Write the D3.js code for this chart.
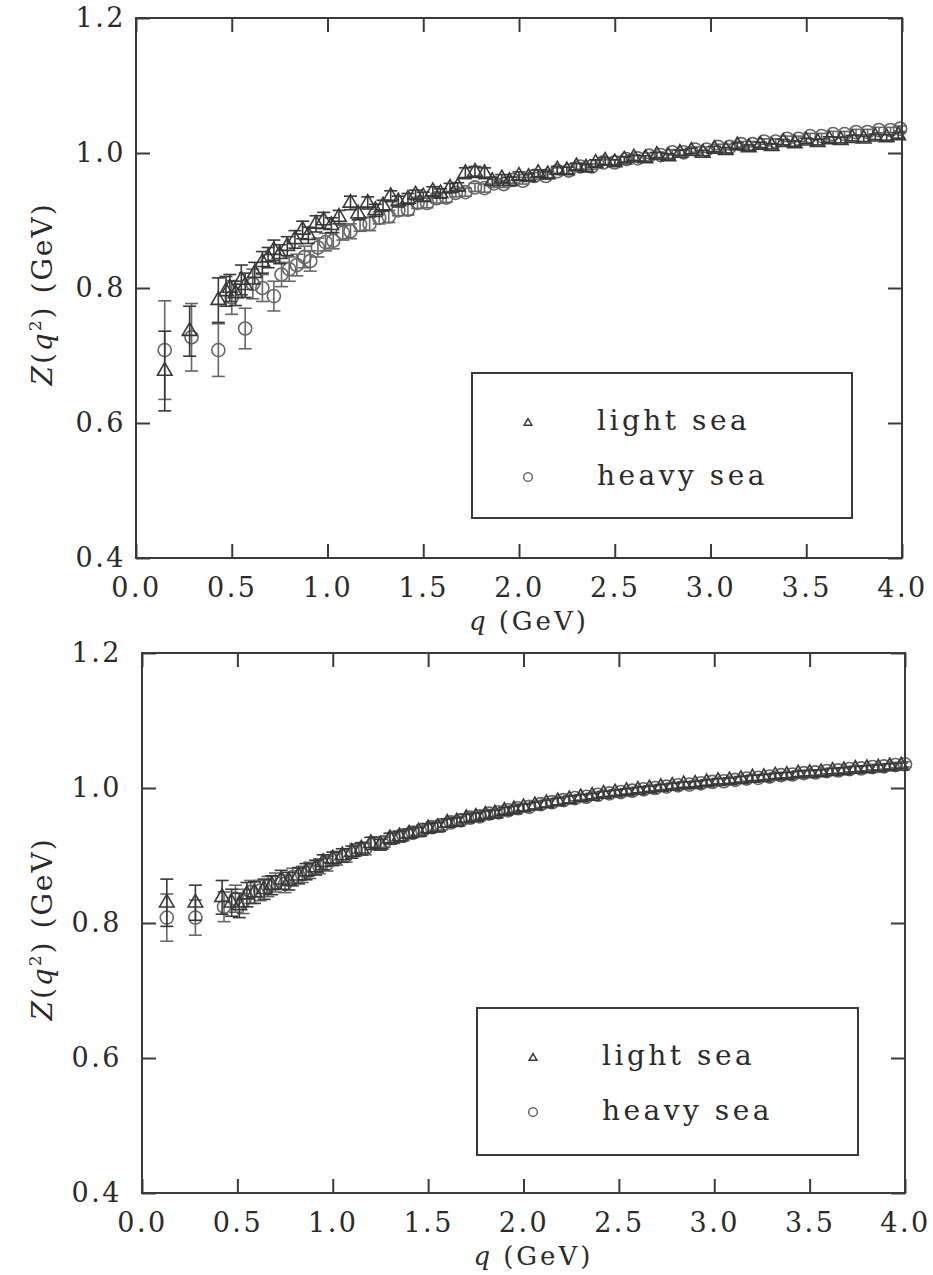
<!DOCTYPE html>
<html>
<head>
<meta charset="utf-8">
<script src="https://cdnjs.cloudflare.com/ajax/libs/d3/7.8.5/d3.min.js"></script>
<style>
  body { margin: 0; background: #fff; }
  svg text { font-family: "DejaVu Serif", serif; fill: #2b2b2b; }
</style>
</head>
<body>
<div id="box-chart"></div>
<script>
const width = 933, height = 1275;

const xTicks = [0, 0.5, 1.0, 1.5, 2.0, 2.5, 3.0, 3.5, 4.0];
const yTicks = [0.4, 0.6, 0.8, 1.0, 1.2];
const seriesNames = ['light sea', 'heavy sea'];

// each point: [q (GeV), Z(q^2) (GeV), error]
const topLight = [
  [0.15,0.677,0.059],[0.28,0.736,0.037],[0.43,0.782,0.033],[0.47,0.795,0.022],[0.49,0.800,0.020],
  [0.52,0.792,0.018],[0.55,0.812,0.022],[0.57,0.804,0.018],[0.62,0.822,0.016],[0.66,0.838,0.016],
  [0.69,0.845,0.015],[0.72,0.856,0.015],[0.75,0.850,0.014],[0.79,0.862,0.014],[0.83,0.872,0.013],
  [0.87,0.886,0.013],[0.90,0.878,0.012],[0.94,0.895,0.012],[0.98,0.900,0.012],[1.02,0.893,0.011],
  [1.06,0.905,0.010],[1.12,0.926,0.010],[1.16,0.910,0.009],[1.21,0.926,0.009],[1.25,0.915,0.009],
  [1.29,0.922,0.008],[1.33,0.936,0.008],[1.37,0.928,0.008],[1.42,0.932,0.008],[1.46,0.938,0.007],
  [1.50,0.935,0.007],[1.55,0.943,0.007],[1.59,0.940,0.007],[1.64,0.948,0.007],[1.68,0.950,0.006],
  [1.72,0.970,0.008],[1.77,0.972,0.008],[1.82,0.970,0.008],[1.86,0.958,0.006],[1.91,0.962,0.006],
  [1.95,0.958,0.006],[2.00,0.966,0.006],[2.05,0.964,0.005],[2.10,0.970,0.005],[2.15,0.968,0.005],
  [2.20,0.975,0.005],[2.25,0.974,0.005],[2.30,0.980,0.005],[2.35,0.978,0.005],[2.40,0.985,0.005],
  [2.45,0.988,0.005],[2.50,0.986,0.004],[2.55,0.990,0.004],[2.60,0.993,0.004],[2.66,0.992,0.004],
  [2.72,0.997,0.004],[2.78,0.995,0.004],[2.84,1.000,0.004],[2.90,1.003,0.004],[2.96,1.000,0.004],
  [3.02,1.006,0.004],[3.08,1.004,0.004],[3.14,1.011,0.004],[3.20,1.008,0.004],[3.26,1.012,0.004],
  [3.32,1.010,0.004],[3.38,1.016,0.004],[3.44,1.014,0.004],[3.50,1.018,0.004],[3.56,1.016,0.004],
  [3.62,1.020,0.004],[3.68,1.019,0.004],[3.74,1.022,0.004],[3.80,1.021,0.004],[3.86,1.024,0.004],
  [3.92,1.023,0.004],[3.98,1.026,0.004]
];

const topHeavy = [
  [0.15,0.708,0.073],[0.29,0.727,0.050],[0.43,0.708,0.039],[0.50,0.786,0.025],[0.57,0.740,0.030],
  [0.61,0.806,0.022],[0.66,0.800,0.020],[0.72,0.788,0.022],[0.76,0.820,0.018],[0.80,0.828,0.018],
  [0.84,0.834,0.016],[0.88,0.846,0.016],[0.91,0.840,0.015],[0.95,0.860,0.014],[0.99,0.868,0.013],
  [1.03,0.870,0.012],[1.08,0.882,0.011],[1.12,0.884,0.011],[1.17,0.894,0.010],[1.22,0.895,0.010],
  [1.27,0.904,0.009],[1.32,0.906,0.009],[1.37,0.915,0.008],[1.42,0.916,0.008],[1.47,0.926,0.008],
  [1.52,0.926,0.007],[1.57,0.933,0.007],[1.62,0.934,0.007],[1.67,0.941,0.006],[1.72,0.942,0.006],
  [1.77,0.949,0.006],[1.82,0.948,0.006],[1.87,0.955,0.006],[1.92,0.954,0.005],[1.97,0.960,0.005],
  [2.02,0.959,0.005],[2.08,0.966,0.005],[2.14,0.966,0.005],[2.20,0.973,0.005],[2.26,0.974,0.005],
  [2.32,0.980,0.004],[2.38,0.980,0.004],[2.44,0.986,0.004],[2.50,0.986,0.004],[2.56,0.991,0.004],
  [2.62,0.992,0.004],[2.68,0.996,0.004],[2.74,0.997,0.004],[2.80,1.001,0.004],[2.86,1.001,0.004],
  [2.92,1.005,0.004],[2.98,1.005,0.004],[3.04,1.009,0.004],[3.10,1.009,0.004],[3.16,1.013,0.004],
  [3.22,1.013,0.004],[3.28,1.017,0.004],[3.34,1.017,0.004],[3.40,1.021,0.004],[3.46,1.021,0.004],
  [3.52,1.025,0.004],[3.58,1.025,0.004],[3.64,1.028,0.004],[3.70,1.028,0.004],[3.76,1.031,0.004],
  [3.82,1.031,0.004],[3.88,1.034,0.004],[3.94,1.034,0.004],[3.99,1.036,0.004]
];

const bottomLight = [
  [0.13,0.830,0.035],[0.28,0.830,0.026],[0.42,0.838,0.025],[0.47,0.830,0.020],[0.51,0.826,0.018],
  [0.55,0.842,0.018],[0.59,0.845,0.016],[0.64,0.850,0.015],[0.68,0.856,0.014],[0.73,0.864,0.014],
  [0.77,0.862,0.013],[0.82,0.870,0.012],[0.86,0.876,0.012],[0.91,0.882,0.011],[0.95,0.890,0.011],
  [1.00,0.895,0.010],[1.05,0.900,0.010],[1.10,0.905,0.009],[1.15,0.910,0.009],[1.20,0.918,0.009],
  [1.25,0.916,0.008],[1.30,0.925,0.008],[1.35,0.928,0.008],[1.40,0.932,0.007],[1.45,0.935,0.007],
  [1.50,0.940,0.007],[1.55,0.942,0.007],[1.60,0.948,0.006],[1.65,0.950,0.006],[1.70,0.955,0.006],
  [1.75,0.957,0.006],[1.80,0.960,0.006],[1.85,0.962,0.005],[1.90,0.966,0.005],[1.95,0.968,0.005],
  [2.00,0.971,0.005],[2.06,0.974,0.005],[2.12,0.977,0.005],[2.18,0.980,0.005],[2.24,0.983,0.005],
  [2.30,0.986,0.004],[2.36,0.988,0.004],[2.42,0.991,0.004],[2.48,0.993,0.004],[2.54,0.995,0.004],
  [2.60,0.997,0.004],[2.66,0.999,0.004],[2.72,1.001,0.004],[2.78,1.003,0.004],[2.84,1.005,0.004],
  [2.90,1.006,0.004],[2.96,1.008,0.004],[3.02,1.010,0.004],[3.08,1.011,0.004],[3.14,1.013,0.004],
  [3.20,1.015,0.004],[3.26,1.016,0.004],[3.32,1.018,0.004],[3.38,1.019,0.004],[3.44,1.021,0.004],
  [3.50,1.022,0.004],[3.56,1.023,0.004],[3.62,1.025,0.004],[3.68,1.026,0.004],[3.74,1.028,0.004],
  [3.80,1.029,0.004],[3.86,1.030,0.004],[3.92,1.032,0.004],[3.98,1.033,0.004]
];

const bottomHeavy = [
  [0.13,0.808,0.035],[0.28,0.808,0.026],[0.43,0.824,0.022],[0.49,0.836,0.020],[0.53,0.832,0.018],
  [0.57,0.846,0.017],[0.62,0.848,0.015],[0.66,0.854,0.015],[0.70,0.860,0.014],[0.75,0.858,0.013],
  [0.79,0.868,0.013],[0.84,0.872,0.012],[0.88,0.878,0.012],[0.93,0.884,0.011],[0.97,0.888,0.011],
  [1.02,0.896,0.010],[1.07,0.900,0.010],[1.12,0.908,0.009],[1.17,0.910,0.009],[1.22,0.918,0.009],
  [1.27,0.920,0.008],[1.32,0.926,0.008],[1.37,0.930,0.008],[1.42,0.934,0.007],[1.47,0.938,0.007],
  [1.52,0.942,0.007],[1.57,0.945,0.007],[1.62,0.949,0.006],[1.67,0.952,0.006],[1.72,0.956,0.006],
  [1.77,0.958,0.006],[1.82,0.962,0.006],[1.87,0.964,0.005],[1.92,0.967,0.005],[1.97,0.970,0.005],
  [2.03,0.972,0.005],[2.09,0.976,0.005],[2.15,0.979,0.005],[2.21,0.982,0.005],[2.27,0.985,0.004],
  [2.33,0.987,0.004],[2.39,0.990,0.004],[2.45,0.992,0.004],[2.51,0.994,0.004],[2.57,0.996,0.004],
  [2.63,0.998,0.004],[2.69,1.000,0.004],[2.75,1.002,0.004],[2.81,1.004,0.004],[2.87,1.005,0.004],
  [2.93,1.007,0.004],[2.99,1.009,0.004],[3.05,1.010,0.004],[3.11,1.012,0.004],[3.17,1.014,0.004],
  [3.23,1.015,0.004],[3.29,1.017,0.004],[3.35,1.019,0.004],[3.41,1.020,0.004],[3.47,1.022,0.004],
  [3.53,1.023,0.004],[3.59,1.025,0.004],[3.65,1.026,0.004],[3.71,1.028,0.004],[3.77,1.029,0.004],
  [3.83,1.031,0.004],[3.89,1.032,0.004],[3.95,1.034,0.004],[4.00,1.035,0.004]
];

// panel frames (pixels) - the scan is a little skewed, so each panel has its own
const panels = [
  { light: topLight, heavy: topHeavy, left: 136, right: 902, top: 18, bottom: 558, yPad: 10,
    legend: { x: 472, y: 373, w: 380, h: 145 } },
  { light: bottomLight, heavy: bottomHeavy, left: 142, right: 905, top: 653, bottom: 1193, yPad: 20,
    legend: { x: 477, y: 1008, w: 381, h: 147 } }
];

const lightColor = '#383838';
const heavyColor = '#666666';

const triangle = d3.symbol().type(d3.symbolTriangle);
const circle = d3.symbol().type(d3.symbolCircle);

const svg = d3.select('#box-chart').append('svg')
  .attr('width', width)
  .attr('height', height);

function styleAxis(sel) {
  sel.select('.domain').remove();
  sel.selectAll('.tick line').attr('stroke', '#3a3a3a').attr('stroke-width', 2);
  sel.selectAll('.tick text')
    .style('font-family', '"DejaVu Serif", serif')
    .style('font-size', '27px')
    .style('letter-spacing', '2.5px')
    .attr('fill', '#2b2b2b');
}

function drawSeries(g, data, x_scale, y_scale, shape, size, color) {
  const pts = g.append('g').selectAll('g')
    .data(data)
    .enter().append('g')
    .attr('transform', (d) => 'translate(' + x_scale(d[0]) + ',' + y_scale(d[1]) + ')');

  pts.append('line')
    .attr('y1', (d) => y_scale(d[1] - d[2]) - y_scale(d[1]))
    .attr('y2', (d) => y_scale(d[1] + d[2]) - y_scale(d[1]));
  pts.append('line')
    .attr('x1', -6.5).attr('x2', 6.5)
    .attr('y1', (d) => y_scale(d[1] - d[2]) - y_scale(d[1]))
    .attr('y2', (d) => y_scale(d[1] - d[2]) - y_scale(d[1]));
  pts.append('line')
    .attr('x1', -6.5).attr('x2', 6.5)
    .attr('y1', (d) => y_scale(d[1] + d[2]) - y_scale(d[1]))
    .attr('y2', (d) => y_scale(d[1] + d[2]) - y_scale(d[1]));
  pts.append('path')
    .attr('d', shape.size(size)());

  pts.selectAll('line, path')
    .attr('stroke', color)
    .attr('stroke-width', 1.6)
    .attr('fill', 'none');
}

panels.forEach((p) => {
  const x_scale = d3.scaleLinear().domain([0, 4]).range([p.left, p.right]);
  const y_scale = d3.scaleLinear().domain([0.4, 1.2]).range([p.bottom, p.top]);
  const g = svg.append('g');

  // data first, frame on top
  drawSeries(g, p.heavy, x_scale, y_scale, circle, 135, heavyColor);
  drawSeries(g, p.light, x_scale, y_scale, triangle, 92, lightColor);

  g.append('rect')
    .attr('x', p.left).attr('y', p.top)
    .attr('width', p.right - p.left).attr('height', p.bottom - p.top)
    .attr('fill', 'none').attr('stroke', '#3a3a3a').attr('stroke-width', 2);

  g.append('g')
    .attr('transform', 'translate(0,' + p.bottom + ')')
    .call(d3.axisBottom(x_scale).tickValues(xTicks).tickSize(-14).tickPadding(20).tickFormat(d3.format('.1f')))
    .call(styleAxis);
  g.append('g')
    .attr('transform', 'translate(0,' + p.top + ')')
    .call(d3.axisTop(x_scale).tickValues(xTicks).tickSize(-14).tickFormat(''))
    .call(styleAxis);
  g.append('g')
    .attr('transform', 'translate(' + p.left + ',0)')
    .call(d3.axisLeft(y_scale).tickValues(yTicks).tickSize(-14).tickPadding(p.yPad).tickFormat(d3.format('.1f')))
    .call(styleAxis);
  g.append('g')
    .attr('transform', 'translate(' + p.right + ',0)')
    .call(d3.axisRight(y_scale).tickValues(yTicks).tickSize(-14).tickFormat(''))
    .call(styleAxis);

  // x axis title
  const xt = g.append('text')
    .attr('x', (p.left + p.right) / 2 + 10)
    .attr('y', p.bottom + 72)
    .attr('text-anchor', 'middle')
    .style('font-size', '26px')
    .style('letter-spacing', '3px');
  xt.append('tspan').style('font-style', 'italic').text('q');
  xt.append('tspan').attr('dx', 10).text('(GeV)');

  // y axis title
  const yc = (p.top + p.bottom) / 2 + 6;
  const yt = g.append('text')
    .attr('transform', 'translate(52,' + yc + ') rotate(-90)')
    .attr('text-anchor', 'middle')
    .style('font-size', '28px')
    .style('letter-spacing', '2px');
  yt.append('tspan').style('font-style', 'italic').text('Z');
  yt.append('tspan').text('(');
  yt.append('tspan').style('font-style', 'italic').text('q');
  yt.append('tspan').attr('dy', -11).style('font-size', '17px').text('2');
  yt.append('tspan').attr('dy', 11).text(')');
  yt.append('tspan').attr('dx', 12).text('(GeV)');

  // legend
  const L = p.legend;
  const lg = g.append('g').attr('transform', 'translate(' + L.x + ',' + L.y + ')');
  lg.append('rect')
    .attr('width', L.w).attr('height', L.h)
    .attr('fill', '#fff').attr('stroke', '#3a3a3a').attr('stroke-width', 2);
  lg.append('path')
    .attr('transform', 'translate(56,50)')
    .attr('d', triangle.size(26)())
    .attr('fill', 'none').attr('stroke', lightColor).attr('stroke-width', 1.5);
  lg.append('path')
    .attr('transform', 'translate(56,104)')
    .attr('d', circle.size(60)())
    .attr('fill', 'none').attr('stroke', heavyColor).attr('stroke-width', 1.5);
  lg.selectAll('text.lab')
    .data(seriesNames)
    .enter().append('text')
    .attr('class', 'lab')
    .attr('x', 125)
    .attr('y', (d, i) => 57 + i * 55)
    .style('font-size', '28px')
    .style('letter-spacing', '3.5px')
    .text((d) => d);
});
</script>
</body>
</html>
